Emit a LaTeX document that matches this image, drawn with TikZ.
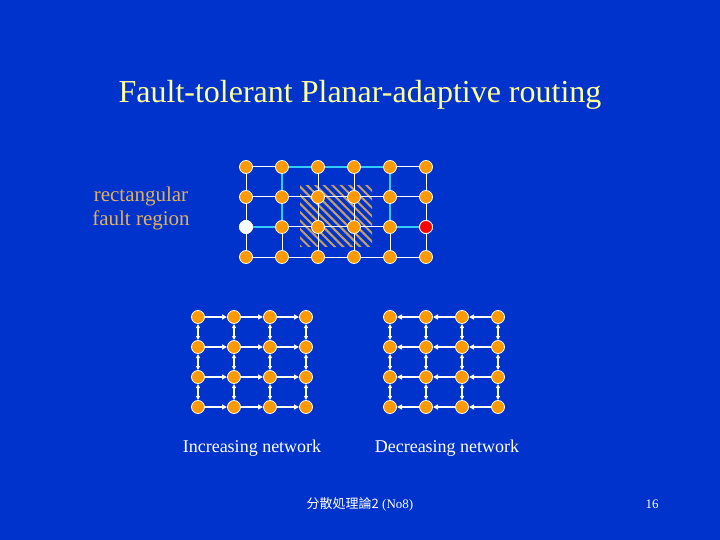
\documentclass[tikz,border=0pt]{standalone}
\usepackage{fontspec}
\setmainfont{Liberation Serif}
\newfontfamily\cjk{Noto Sans CJK SC}
\usetikzlibrary{patterns,patterns.meta,arrows.meta}
\definecolor{bg}{RGB}{0,51,204}
\definecolor{org}{RGB}{255,153,0}
\definecolor{cy}{RGB}{51,204,255}
\definecolor{ttl}{RGB}{255,255,153}
\definecolor{tan}{RGB}{224,176,96}
\tikzset{nd/.style={circle,fill=org,draw=white,line width=0.8pt,minimum size=13pt,inner sep=0pt},
 ln/.style={white,line width=1pt},
 ca/.style={cy,line width=2pt,-{Triangle[length=6pt,width=6pt]}},
 wa/.style={white,line width=1.2pt,-{Triangle[length=5pt,width=5pt]}},
 wb/.style={white,line width=1.2pt,{Triangle[length=4pt,width=4pt]}-{Triangle[length=4pt,width=4pt]}}}
\begin{document}
\begin{tikzpicture}[x=1pt,y=-1pt]
\fill[bg] (0,0) rectangle (720,540);
\useasboundingbox (0,0) rectangle (720,540);
\node[ttl,font=\fontsize{32}{36}\selectfont] (title) at (360,95) {Fault-tolerant Planar-adaptive routing};
\node[tan,font=\fontsize{21}{24}\selectfont,align=center] (lab) at (141,208) {rectangular\\fault region};
\fill[pattern={Lines[angle=-45,distance=6pt,line width=2pt]},pattern color=tan!70!gray] (300,186) rectangle (372,246);
% top grid
\foreach \i/\x in {0/246,1/282,2/318,3/354,4/390,5/426}
 \foreach \j/\y in {0/167,1/197,2/227,3/257}
  \coordinate (t\i\j) at (\x,\y);
\foreach \i in {0,...,5}{\draw[ln] (t\i0) -- (t\i3);}
\foreach \j in {0,...,3}{\draw[ln] (t0\j) -- (t5\j);}
\draw[ca] (t02) -- (t12);
\draw[ca] (t12) -- (t11);
\draw[ca] (t11) -- (t10);
\draw[ca] (t10) -- (t20);
\draw[ca] (t20) -- (t30);
\draw[ca] (t30) -- (t40);
\draw[ca] (t40) -- (t41);
\draw[ca] (t41) -- (t42);
\draw[ca] (t42) -- (t52);
\foreach \i in {0,...,5}\foreach \j in {0,...,3}{\node[nd] (n\i\j) at (t\i\j) {};}
\node[nd,fill=white] (src) at (t02) {};
\node[nd,fill=red] (dst) at (t52) {};
% bottom grids
\foreach \g/\xo in {a/198,b/390}{
 \foreach \i in {0,...,3}\foreach \j in {0,...,3}{\coordinate (\g\i\j) at (\xo+36*\i,317+30*\j);}
}
\foreach \i in {0,...,3}\foreach \j in {0,1,2}{
 \pgfmathtruncatemacro\k{\j+1}
 \draw[wb,shorten <=7pt,shorten >=7pt] (a\i\j) -- (a\i\k);
 \draw[wb,shorten <=7pt,shorten >=7pt] (b\i\j) -- (b\i\k);}
\foreach \j in {0,...,3}\foreach \i in {0,1,2}{
 \pgfmathtruncatemacro\k{\i+1}
 \draw[wa,shorten >=7pt] (a\i\j) -- (a\k\j);
 \draw[wa,shorten >=7pt] (b\k\j) -- (b\i\j);}
\foreach \i in {0,...,3}\foreach \j in {0,...,3}{\node[nd] (na\i\j) at (a\i\j) {}; \node[nd] (nb\i\j) at (b\i\j) {};}
\node[white,font=\fontsize{18}{20}\selectfont] (inc) at (252,448) {Increasing network};
\node[white,font=\fontsize{18}{20}\selectfont] (dec) at (447,448) {Decreasing network};
\node[white,font=\fontsize{13}{15}\selectfont] (ft) at (360,504) {{\cjk 分散処理論2} (No8)};
\node[white,font=\fontsize{13}{15}\selectfont] (pg) at (652,504) {16};
\end{tikzpicture}
\end{document}
